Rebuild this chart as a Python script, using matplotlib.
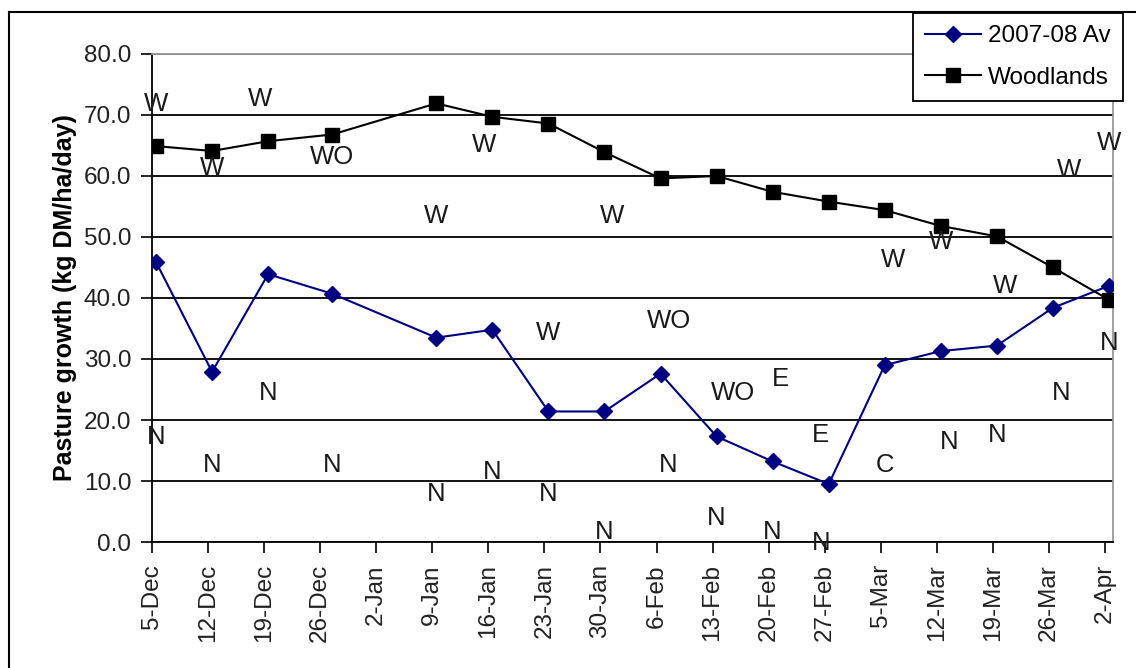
import matplotlib
matplotlib.use('Agg')
import matplotlib.pyplot as plt
import pandas as pd

plt.rcParams['font.family'] = ['Liberation Sans', 'DejaVu Sans']

# weekly readings (2 Jan missing)
fechas = ['2007-12-05', '2007-12-12', '2007-12-19', '2007-12-27', '2008-01-09',
          '2008-01-16', '2008-01-23', '2008-01-30', '2008-02-06', '2008-02-13',
          '2008-02-20', '2008-02-27', '2008-03-05', '2008-03-12', '2008-03-19',
          '2008-03-26', '2008-04-02']
media_0708 = [45.9, 27.9, 43.9, 40.7, 33.5, 34.8, 21.4, 21.4, 27.6, 17.3,
              13.2, 9.5, 29.0, 31.3, 32.2, 38.4, 42.0]
woodlands = [64.9, 64.1, 65.7, 66.8, 71.9, 69.7, 68.6, 63.9, 59.6, 60.0,
             57.4, 55.8, 54.4, 51.8, 50.1, 45.0, 39.7]

ticks = ['2007-12-05', '2007-12-12', '2007-12-19', '2007-12-26', '2008-01-02',
         '2008-01-09', '2008-01-16', '2008-01-23', '2008-01-30', '2008-02-06',
         '2008-02-13', '2008-02-20', '2008-02-27', '2008-03-05', '2008-03-12',
         '2008-03-19', '2008-03-26', '2008-04-02']
tick_labels = ['5-Dec', '12-Dec', '19-Dec', '26-Dec', '2-Jan', '9-Jan', '16-Jan',
               '23-Jan', '30-Jan', '6-Feb', '13-Feb', '20-Feb', '27-Feb', '5-Mar',
               '12-Mar', '19-Mar', '26-Mar', '2-Apr']

# paddock notes
notas = ['W', 'W', 'W', 'WO', 'W', 'W', 'W', 'W', 'WO', 'WO', 'E', 'E', 'C',
         'N', 'N', 'N', 'N', 'W', 'W', 'W', 'W', 'W',
         'N', 'N', 'N', 'N', 'N', 'N', 'N', 'N', 'N', 'N', 'N', 'N']
notas_fecha = ['2007-12-05', '2007-12-12', '2007-12-18', '2007-12-27', '2008-01-09',
               '2008-01-15', '2008-01-23', '2008-01-31', '2008-02-07', '2008-02-15',
               '2008-02-21', '2008-02-26', '2008-03-05', '2008-03-13', '2008-03-19',
               '2008-03-27', '2008-04-02', '2008-03-06', '2008-03-12', '2008-03-20',
               '2008-03-28', '2008-04-02',
               '2007-12-05', '2007-12-12', '2007-12-19', '2007-12-27', '2008-01-09',
               '2008-01-16', '2008-01-23', '2008-01-30', '2008-02-07', '2008-02-13',
               '2008-02-20', '2008-02-26']
notas_valor = [71.8, 61.3, 72.6, 63.1, 53.4, 65.0, 34.2, 53.4, 36.3, 24.4,
               26.8, 17.5, 12.7, 16.4, 17.5, 24.4, 32.6, 46.3, 49.1, 41.9,
               61.0, 65.4,
               17.2, 12.7, 24.4, 12.7, 7.8, 11.4, 7.8, 1.6, 12.7, 3.9,
               1.6, -0.2]


def plotar_grafico():
    fig = plt.figure(figsize=(11.36, 6.68), dpi=100)
    ax = fig.add_axes([0.1338, 0.1886, 0.9798 - 0.1338, 0.9192 - 0.1886])

    meio_dia = pd.Timedelta(hours=12)
    x = pd.to_datetime(fechas) + meio_dia

    ax.plot(x, media_0708, color='#000080', lw=1.5, marker='D', ms=8,
            label='2007-08 Av', zorder=3)
    ax.plot(x, woodlands, color='black', lw=1.5, marker='s', ms=9.5,
            label='Woodlands', zorder=3)

    xn = pd.to_datetime(notas_fecha) + meio_dia
    for t, xi, yi in zip(notas, xn, notas_valor):
        ax.text(xi, yi, t, ha='center', va='center', fontsize=18.5,
                color='#1a1a1a', clip_on=False, zorder=4)

    ax.set_xlim(pd.Timestamp('2007-12-05'), pd.Timestamp('2008-04-03'))
    ax.set_ylim(0, 80)
    ax.set_yticks(range(0, 81, 10))
    ax.set_yticklabels([f'{v:.1f}' for v in range(0, 81, 10)], fontsize=17.5,
                       color='#222222')
    ax.set_xticks(pd.to_datetime(ticks))
    ax.set_xticklabels(tick_labels, rotation=90, fontsize=17.5, color='#222222')
    ax.tick_params(axis='both', direction='out', length=8, width=1.2, color='black')
    ax.tick_params(axis='y', pad=7)
    ax.tick_params(axis='x', pad=8)

    ax.yaxis.grid(True, color='black', lw=1.3)
    ax.set_axisbelow(True)
    for lado in ['left', 'bottom']:
        ax.spines[lado].set_color('black')
        ax.spines[lado].set_linewidth(1.3)
    for lado in ['right', 'top']:
        ax.spines[lado].set_color('#999999')
        ax.spines[lado].set_linewidth(1.3)

    ax.set_ylabel('Pasture growth (kg DM/ha/day)', fontsize=18,
                  fontweight='bold', labelpad=5)

    leg = ax.legend(loc='upper right', bbox_to_anchor=(0.9886, 0.9805),
                    bbox_transform=fig.transFigure, borderaxespad=0,
                    fontsize=17.5, fancybox=False, framealpha=1,
                    edgecolor='black', handlelength=2.3, borderpad=0.5,
                    labelspacing=0.8, handletextpad=0.3)
    leg.get_frame().set_linewidth(1.3)
    leg.set_zorder(10)

    # moldura externa
    fig.add_artist(plt.Line2D([0.008, 0.008], [0, 0.982], color='black',
                              lw=1.5, transform=fig.transFigure))
    fig.add_artist(plt.Line2D([0.008, 1.0], [0.982, 0.982], color='black',
                              lw=1.5, transform=fig.transFigure))

    fig.savefig('out.png', dpi=100)


plotar_grafico()
